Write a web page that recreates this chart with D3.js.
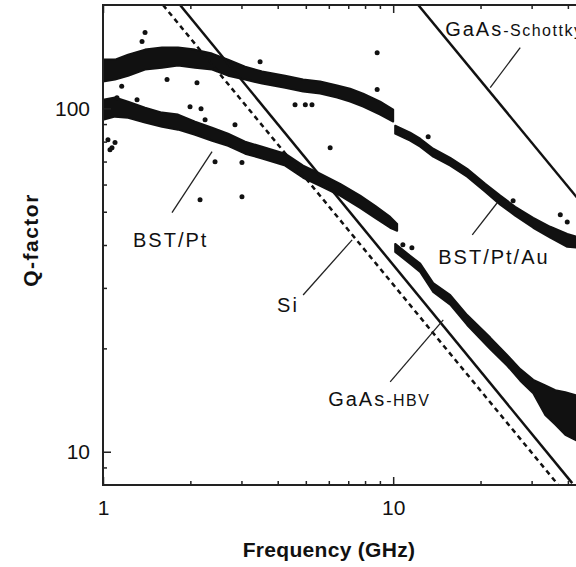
<!DOCTYPE html>
<html>
<head>
<meta charset="utf-8">
<script src="https://cdn.jsdelivr.net/npm/d3@7"></script>
<style>
  body { margin: 0; background: #fff; }
  text { font-family: "Liberation Sans", Arial, sans-serif; fill: #111; }
</style>
</head>
<body>
<div id="vis"></div>
<script>
// BST/Pt/Au, 1-10 GHz band (freq GHz, Q low edge, Q high edge)
const auLowF   = [1.00, 1.100, 1.220, 1.396, 1.597, 1.814, 2.076, 2.376, 2.698, 3.088, 3.534, 4.243, 4.894, 5.601, 6.411, 7.107, 7.88, 9.018, 10.0]
const auLowQhi = [138.7, 138.7, 143.4, 148.3, 150.3, 150.3, 148.3, 144.4, 138.7, 132.3, 128.0, 124.5, 121.3, 119.7, 116.5, 114.1, 110.4, 104.6, 99.1]
const auLowQlo = [119.7, 121.3, 124.5, 129.7, 131.4, 133.2, 131.4, 129.7, 124.5, 121.3, 118.1, 114.9, 111.9, 110.4, 107.5, 104.6, 101.2, 95.9, 91.5]

// BST/Pt/Au, 10-45 GHz band
const auHighF   = [10.16, 11.44, 12.39, 13.74, 15.73, 17.99, 20.76, 23.39, 26.34, 30.39, 34.78, 39.81, 42.76]
const auHighQhi = [89.0, 85.0, 81.6, 76.3, 71.8, 66.7, 60.3, 55.7, 51.7, 48.0, 45.2, 43.1, 42.3]
const auHighQlo = [84.4, 80.5, 77.3, 72.3, 68.1, 63.2, 57.2, 52.4, 48.7, 44.9, 42.0, 39.5, 39.3]

// BST/Pt, 1-10 GHz band
const ptLowF   = [1.00, 1.100, 1.220, 1.396, 1.597, 1.814, 2.076, 2.376, 2.698, 3.088, 3.534, 4.243, 4.894, 5.601, 6.565, 7.694, 8.668, 9.763, 10.32]
const ptLowQhi = [106.0, 107.5, 104.6, 100.5, 97.2, 95.9, 91.5, 87.8, 84.4, 80.0, 77.3, 73.8, 68.1, 64.5, 60.3, 55.7, 52.0, 48.3, 46.1]
const ptLowQlo = [92.7, 94.6, 93.9, 90.9, 88.4, 86.7, 83.8, 80.5, 77.8, 73.8, 71.4, 68.1, 62.8, 59.5, 55.7, 51.3, 48.0, 44.9, 44.0]

// BST/Pt, 10-45 GHz band
const ptHighF   = [10.16, 11.44, 12.39, 13.74, 15.73, 17.99, 21.60, 24.73, 27.41, 30.39, 33.43, 36.2, 39.2, 42.76]
const ptHighQhi = [40.3, 37.2, 35.3, 31.0, 28.6, 25.0, 21.5, 19.1, 17.4, 16.2, 15.6, 15.1, 14.9, 14.6]
const ptHighQlo = [38.2, 35.3, 33.4, 29.2, 26.8, 23.4, 19.9, 17.8, 16.1, 14.8, 12.8, 12.0, 11.2, 10.8]

// stray measurement points
const strayF = [1.396, 1.363, 1.160, 1.662, 2.108, 3.478, 8.806, 8.806, 6.064, 4.59, 4.98, 5.25, 13.2, 25.9, 37.66, 39.8,
                1.995, 2.177, 2.248, 2.850, 2.433, 3.012, 2.160, 3.012, 1.074, 1.040, 1.117, 1.310, 1.057, 1.100, 11.6, 10.8]
const strayQ = [166.2, 156.5, 115.9, 121.3, 118.8, 136.8, 145.3, 113.4, 76.8, 102.5, 102.5, 102.5, 82.7, 53.8, 49.0, 46.7,
                101.1, 99.8, 92.7, 89.6, 69.9, 69.5, 54.2, 55.3, 76.8, 81.0, 107.4, 106.0, 75.8, 79.5, 39.3, 40.1]

// reference devices, Q ~ 1/f lines (endpoints)
const refNames = ["Si", "GaAs-HBV", "GaAs-Schottky"]
const refF = [[1.61, 37.07], [1.843, 41.4], [12.2, 44.0]]
const refQ = [[200, 8], [200, 8.1], [200, 53.7]]

// labels and their pointer lines
const labelText = ["BST/Pt", "Si", "BST/Pt/Au"]
const labelF = [1.269, 3.98, 14.30]
const labelQ = [39.5, 25.5, 35.3]
const subLabelMain = ["GaAs", "GaAs"]
const subLabelSmall = ["-HBV", "-Schottky"]
const subLabelF = [5.97, 15.11]
const subLabelQ = [13.6, 162.9]
const leaderF = [[1.729, 2.376], [4.894, 7.22], [18.73, 22.84], [9.763, 14.88], [21.60, 27.41]]
const leaderQ = [[49.7, 74.8], [28.6, 41.4], [42.8, 53.1], [15.97, 24.2], [114.9, 150.3]]

const xMajor = [1, 10]
const xMinor = [2, 3, 4, 5, 6, 7, 8, 9, 20, 30, 40, 50]
const yMajor = [10, 100]
const yMinor = [9, 20, 30, 40, 50, 60, 70, 80, 90]

const width = 576
const height = 567

const svg = d3.select("#vis").append("svg")
  .attr("width", width)
  .attr("height", height)

const x = d3.scaleLog().domain([1, 50]).range([103, 596])
const y = d3.scaleLog().domain([8, 200]).range([485, 5])

svg.append("clipPath").attr("id", "plot")
  .append("rect")
  .attr("x", x(1)).attr("y", y(200))
  .attr("width", x(50) - x(1)).attr("height", y(8) - y(200))

const plot = svg.append("g").attr("clip-path", "url(#plot)")

// measured bands
const area = d3.area()
  .x(d => x(d[0]))
  .y0(d => y(d[1]))
  .y1(d => y(d[2]))

const bands = [
  d3.zip(auLowF, auLowQlo, auLowQhi),
  d3.zip(auHighF, auHighQlo, auHighQhi),
  d3.zip(ptLowF, ptLowQlo, ptLowQhi),
  d3.zip(ptHighF, ptHighQlo, ptHighQhi)
]
plot.selectAll(".band")
  .data(bands)
  .enter()
  .append("path")
    .attr("class", "band")
    .attr("d", area)
    .attr("fill", "#111")
    .attr("stroke", "#111")
    .attr("stroke-width", 2)
    .attr("stroke-linejoin", "round")

plot.selectAll(".stray")
  .data(d3.zip(strayF, strayQ))
  .enter()
  .append("circle")
    .attr("cx", d => x(d[0]))
    .attr("cy", d => y(d[1]))
    .attr("r", 2.5)
    .attr("fill", "#111")

// reference lines
const line = d3.line().x(d => x(d[0])).y(d => y(d[1]))
plot.selectAll(".ref")
  .data(refNames)
  .enter()
  .append("path")
    .attr("d", (d, i) => line(d3.zip(refF[i], refQ[i])))
    .attr("fill", "none")
    .attr("stroke", "#111")
    .attr("stroke-width", 2.5)
    .style("stroke-dasharray", d => d == "Si" ? "5,4" : null)

// pointer lines
plot.selectAll(".leader")
  .data(leaderF)
  .enter()
  .append("path")
    .attr("d", (d, i) => line(d3.zip(leaderF[i], leaderQ[i])))
    .attr("stroke", "#222")
    .attr("stroke-width", 1.3)

// axes
const frame = svg.append("g")
frame.append("rect")
  .attr("x", x(1)).attr("y", y(200))
  .attr("width", x(50) - x(1)).attr("height", y(8) - y(200))
  .attr("fill", "none")
  .attr("stroke", "#222")
  .attr("stroke-width", 2)

function clean(g) {
  g.select(".domain").remove()
  g.selectAll(".tick line").attr("stroke", "#222").attr("stroke-width", 1.5)
  g.selectAll("text").style("font-size", "21px").attr("fill", "#111")
}

svg.append("g").attr("transform", `translate(0,${y(8)})`)
  .call(d3.axisBottom(x).tickValues(xMajor).tickFormat(d3.format("d")).tickSizeInner(-8).tickSizeOuter(0).tickPadding(15))
  .call(clean)
svg.append("g").attr("transform", `translate(0,${y(8)})`)
  .call(d3.axisBottom(x).tickValues(xMinor).tickFormat("").tickSizeInner(-4).tickSizeOuter(0))
  .call(clean)
svg.append("g").attr("transform", `translate(0,${y(200)})`)
  .call(d3.axisTop(x).tickValues(xMajor).tickFormat("").tickSizeInner(-8).tickSizeOuter(0))
  .call(clean)
svg.append("g").attr("transform", `translate(0,${y(200)})`)
  .call(d3.axisTop(x).tickValues(xMinor).tickFormat("").tickSizeInner(-4).tickSizeOuter(0))
  .call(clean)
svg.append("g").attr("transform", `translate(${x(1)},0)`)
  .call(d3.axisLeft(y).tickValues(yMajor).tickFormat(d3.format("d")).tickSizeInner(-8).tickSizeOuter(0).tickPadding(13))
  .call(clean)
svg.append("g").attr("transform", `translate(${x(1)},0)`)
  .call(d3.axisLeft(y).tickValues(yMinor).tickFormat("").tickSizeInner(-4).tickSizeOuter(0))
  .call(clean)

// axis titles
svg.append("text")
  .attr("x", 329)
  .attr("y", 557)
  .attr("text-anchor", "middle")
  .style("font-size", "21px")
  .style("font-weight", "bold")
  .style("letter-spacing", "0.3px")
  .text("Frequency (GHz)")

svg.append("text")
  .attr("transform", "translate(38,240) rotate(-90)")
  .attr("text-anchor", "middle")
  .style("font-size", "21px")
  .style("font-weight", "bold")
  .style("letter-spacing", "1.5px")
  .text("Q-factor")

// series labels
svg.selectAll(".lab")
  .data(labelText)
  .enter()
  .append("text")
    .attr("x", (d, i) => x(labelF[i]))
    .attr("y", (d, i) => y(labelQ[i]))
    .style("font-size", "20px")
    .style("letter-spacing", "2px")
    .text(d => d)

const sub = svg.selectAll(".sub")
  .data(subLabelMain)
  .enter()
  .append("text")
    .attr("x", (d, i) => x(subLabelF[i]))
    .attr("y", (d, i) => y(subLabelQ[i]))
    .style("font-size", "20px")
    .style("letter-spacing", "2px")
sub.append("tspan").text(d => d)
sub.append("tspan")
  .style("font-size", "16px")
  .style("letter-spacing", "1.5px")
  .text((d, i) => subLabelSmall[i])
</script>
</body>
</html>
